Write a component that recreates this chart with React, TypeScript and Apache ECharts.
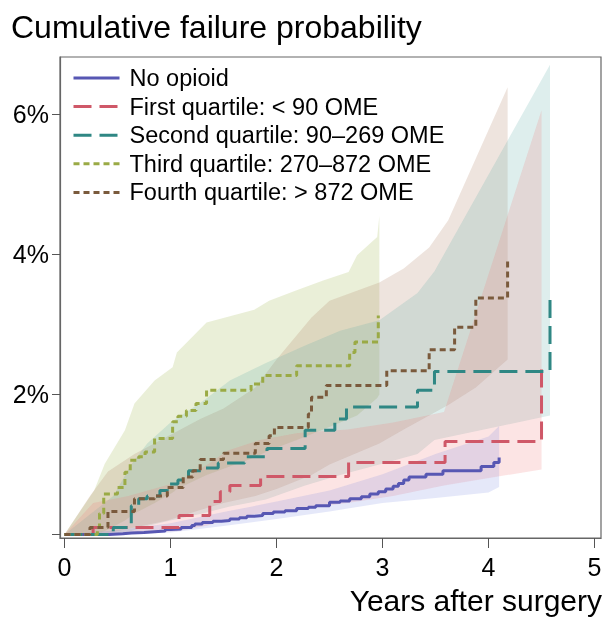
import React, { useEffect, useRef } from "react";
import * as echarts from "echarts";

// ---- Data (years after surgery, cumulative failure %) ----
const noOpioidT = [0, 0.42, 0.55, 0.63, 0.75, 0.85, 0.95, 1.0, 1.1, 1.2, 1.23, 1.3, 1.4, 1.48, 1.56, 1.65, 1.72, 1.79, 1.87, 1.97, 2.08, 2.19, 2.3, 2.37, 2.5, 2.6, 2.69, 2.8, 2.88, 2.96, 3.03, 3.1, 3.15, 3.2, 3.25, 3.41, 3.57, 3.93, 4.05, 4.1];
const noOpioidP = [0, 0.01, 0.02, 0.03, 0.04, 0.05, 0.07, 0.08, 0.1, 0.13, 0.15, 0.17, 0.19, 0.2, 0.22, 0.24, 0.26, 0.27, 0.3, 0.32, 0.34, 0.37, 0.39, 0.41, 0.46, 0.48, 0.51, 0.54, 0.58, 0.61, 0.65, 0.69, 0.73, 0.78, 0.82, 0.86, 0.91, 0.97, 1.03, 1.1];

const q1T = [0, 0.27, 1.08, 1.37, 1.47, 1.56, 1.85, 2.68, 3.59, 4.5];
const q1P = [0, 0.1, 0.27, 0.47, 0.61, 0.7, 0.83, 1.03, 1.33, 2.38];

const q2T = [0, 0.46, 0.63, 0.7, 0.78, 0.9, 0.97, 1.07, 1.17, 1.3, 1.45, 1.7, 1.91, 2.27, 2.55, 2.66, 3.33, 3.49, 4.58];
const q2P = [0, 0.1, 0.41, 0.51, 0.55, 0.63, 0.72, 0.78, 0.91, 0.95, 1.02, 1.11, 1.23, 1.49, 1.65, 1.82, 2.06, 2.33, 3.39];

const q3T = [0, 0.31, 0.33, 0.37, 0.5, 0.57, 0.62, 0.7, 0.76, 0.85, 1.02, 1.07, 1.15, 1.24, 1.34, 1.76, 1.87, 2.19, 2.69, 2.74, 2.96];
const q3P = [0, 0.1, 0.3, 0.58, 0.67, 0.89, 1.06, 1.11, 1.18, 1.37, 1.61, 1.69, 1.77, 1.87, 2.06, 2.15, 2.27, 2.41, 2.6, 2.75, 3.13];

const q4T = [0, 0.24, 0.41, 0.66, 0.85, 0.97, 1.12, 1.21, 1.28, 1.5, 1.8, 1.93, 1.98, 2.3, 2.33, 2.47, 3.04, 3.44, 3.68, 3.88, 4.18];
const q4P = [0, 0.1, 0.33, 0.51, 0.55, 0.67, 0.82, 0.91, 1.07, 1.16, 1.3, 1.41, 1.53, 1.72, 1.96, 2.13, 2.34, 2.64, 2.96, 3.38, 3.95];

// ---- Confidence bands ----
const noOpioidBandT = [0, 0.5, 1.0, 1.5, 2.0, 2.5, 3.0, 3.5, 4.0, 4.1];
const noOpioidBandLo = [0, 0, 0.03, 0.12, 0.22, 0.33, 0.45, 0.52, 0.6, 0.68];
const noOpioidBandHi = [0, 0.06, 0.16, 0.32, 0.47, 0.63, 0.86, 1.15, 1.4, 1.55];

const q1BandT = [0, 0.27, 0.6, 1.07, 1.35, 1.54, 1.84, 2.2, 2.67, 3.1, 3.58, 4.5];
const q1BandLo = [0, 0, 0.01, 0.05, 0.13, 0.22, 0.3, 0.36, 0.45, 0.55, 0.7, 0.93];
const q1BandHi = [0, 0.45, 0.55, 0.75, 1.0, 1.2, 1.35, 1.45, 1.5, 1.6, 1.75, 6.06];

const q2BandT = [0, 0.46, 0.63, 0.78, 1.0, 1.3, 1.56, 1.9, 2.27, 2.6, 2.97, 3.33, 3.49, 4.58];
const q2BandLo = [0, 0, 0.05, 0.12, 0.2, 0.3, 0.4, 0.5, 0.7, 0.85, 1.0, 1.15, 1.35, 1.7];
const q2BandHi = [0, 0.55, 1.0, 1.3, 1.6, 1.9, 2.2, 2.45, 2.7, 2.91, 3.06, 3.45, 3.76, 6.71];

const q3BandT = [0, 0.28, 0.38, 0.57, 0.66, 0.85, 1.02, 1.06, 1.34, 1.79, 1.93, 2.19, 2.44, 2.68, 2.76, 2.95, 2.97];
const q3BandLo = [0, 0, 0.05, 0.2, 0.3, 0.45, 0.6, 0.65, 0.85, 1.1, 1.2, 1.35, 1.5, 1.65, 1.7, 1.95, 2.0];
const q3BandHi = [0, 0.63, 1.01, 1.49, 1.87, 2.2, 2.39, 2.6, 3.03, 3.21, 3.34, 3.49, 3.63, 3.75, 3.99, 4.25, 4.55];

const q4BandT = [0, 0.24, 0.41, 0.66, 0.97, 1.28, 1.5, 1.8, 2.0, 2.33, 2.5, 2.97, 3.2, 3.44, 3.62, 3.88, 4.18];
const q4BandLo = [0, 0, 0.02, 0.1, 0.2, 0.35, 0.45, 0.55, 0.65, 0.85, 1.0, 1.3, 1.5, 1.7, 1.85, 2.1, 2.5];
const q4BandHi = [0, 0.55, 0.9, 1.15, 1.4, 1.65, 1.8, 2.1, 2.5, 3.1, 3.34, 3.6, 3.8, 4.1, 4.49, 5.37, 6.39];

const seriesNames = [
  "No opioid",
  "First quartile: < 90 OME",
  "Second quartile: 90\u2013269 OME",
  "Third quartile: 270\u2013872 OME",
  "Fourth quartile: > 872 OME",
];
const xTicks = [0, 1, 2, 3, 4, 5];
const yTicks = [0, 2, 4, 6];
const yLabels = [2, 4, 6];

const FONT = "'Liberation Sans', Arial, Helvetica, sans-serif";

const zip = (t: number[], p: number[]) => t.map((v, i) => [v, p[i]]);

function band(t: number[], lo: number[], hi: number[], fill: string) {
  return {
    type: "custom",
    silent: true,
    z: 1,
    data: [[t[0], lo[0]]],
    encode: { x: 0, y: 1 },
    renderItem: (_params: any, api: any) => {
      const pts: number[][] = [];
      for (let i = 0; i < t.length; i++) pts.push(api.coord([t[i], hi[i]]));
      for (let i = t.length - 1; i >= 0; i--) pts.push(api.coord([t[i], lo[i]]));
      return { type: "polygon", shape: { points: pts }, style: { fill } };
    },
  };
}

function stepLine(name: string, t: number[], p: number[], color: string, dash: any) {
  return {
    type: "line",
    name,
    step: "end",
    symbol: "none",
    z: 3,
    data: zip(t, p),
    itemStyle: { color },
    lineStyle: { color, width: 3, type: dash, cap: "butt" },
  };
}

export default function App() {
  const ref = useRef<HTMLDivElement>(null);
  useEffect(() => {
    if (!ref.current) return;
    const chart = echarts.init(ref.current, undefined, { renderer: "svg" });
    const colors = ["#5757b3", "#cf5868", "#2f8784", "#9aaa45", "#7a5a3c"];
    chart.setOption({
      animation: false,
      textStyle: { fontFamily: FONT },
      grid: { left: 60, right: 8, top: 57, bottom: 86, show: true, borderColor: "#666", borderWidth: 1.2 },
      xAxis: {
        type: "value",
        min: -0.0425,
        max: 5.061,
        splitLine: { show: false },
        axisLine: { onZero: false, lineStyle: { color: "#666", width: 1.2 } },
        axisTick: { customValues: xTicks, length: 10, lineStyle: { color: "#555" } },
        axisLabel: { customValues: xTicks, fontSize: 25, color: "#000", margin: 16, fontFamily: FONT },
      },
      yAxis: {
        type: "value",
        min: -0.05,
        max: 6.821,
        splitLine: { show: false },
        axisLine: { onZero: false, lineStyle: { color: "#666", width: 1.2 } },
        axisTick: { customValues: yTicks, length: 8, lineStyle: { color: "#555" } },
        axisLabel: {
          customValues: yLabels,
          fontSize: 25,
          color: "#000",
          margin: 11,
          fontFamily: FONT,
          formatter: (v: number) => `${Math.round(v)}%`,
        },
      },
      legend: {
        data: seriesNames,
        orient: "vertical",
        left: 67,
        top: 61,
        itemWidth: 46,
        itemHeight: 14,
        itemGap: 4.6,
        itemStyle: { opacity: 0 },
        lineStyle: { width: 3 },
        textStyle: { fontSize: 23.5, color: "#000", fontFamily: FONT, padding: [0, 0, 0, 5], lineHeight: 23.5 },
      },
      graphic: [
        {
          type: "text",
          x: 11,
          y: 27,
          style: { text: "Cumulative failure probability", font: `32px ${FONT}`, fill: "#000", verticalAlign: "middle", align: "left" },
        },
        {
          type: "text",
          x: 602,
          y: 600,
          style: { text: "Years after surgery", font: `30px ${FONT}`, fill: "#000", verticalAlign: "middle", align: "right" },
        },
      ],
      series: [
        band(q3BandT, q3BandLo, q3BandHi, "rgba(170,190,100,0.25)"),
        band(q4BandT, q4BandLo, q4BandHi, "rgba(170,120,90,0.2)"),
        band(q2BandT, q2BandLo, q2BandHi, "rgba(90,170,165,0.2)"),
        band(q1BandT, q1BandLo, q1BandHi, "rgba(240,120,120,0.2)"),
        band(noOpioidBandT, noOpioidBandLo, noOpioidBandHi, "rgba(110,130,220,0.18)"),
        stepLine(seriesNames[0], noOpioidT, noOpioidP, colors[0], "solid"),
        stepLine(seriesNames[1], q1T, q1P, colors[1], [18, 8]),
        stepLine(seriesNames[2], q2T, q2P, colors[2], [18, 8]),
        stepLine(seriesNames[3], q3T, q3P, colors[3], [6, 4]),
        stepLine(seriesNames[4], q4T, q4P, colors[4], [6, 4]),
      ],
    });
    return () => chart.dispose();
  }, []);
  return <div ref={ref} style={{ position: "fixed", left: 0, top: 0, width: 609, height: 624 }} />;
}
